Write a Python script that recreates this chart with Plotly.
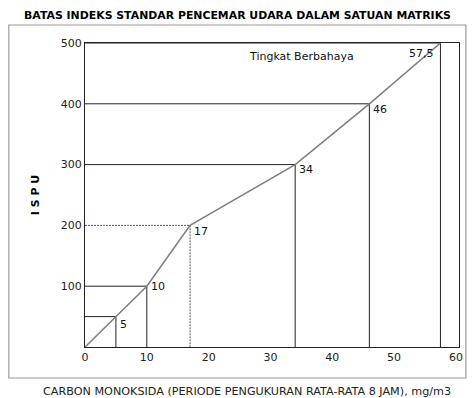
import plotly.graph_objects as go

# Data: CO concentration breakpoints (mg/m3) and ISPU values
co_values = [5, 10, 17, 34, 46, 57.5]
ispu_values = [50, 100, 200, 300, 400, 500]
point_labels = ["5", "10", "17", "34", "46", "57,5"]
dashed_flags = [False, False, True, False, False, False]
x_ticks = [0, 10, 20, 30, 40, 50, 60]
y_ticks = [100, 200, 300, 400, 500]

FONT = "DejaVu Sans"
fig = go.Figure()

# guide lines from each breakpoint to the axes
for x, y, dashed in zip(co_values, ispu_values, dashed_flags):
    fig.add_trace(go.Scatter(
        x=[0, x, x], y=[y, y, 0], mode="lines",
        line=dict(color="#555555" if dashed else "#222222", width=1,
                  dash="2px,1px" if dashed else "solid"),
        hoverinfo="skip", showlegend=False))

# main curve
fig.add_trace(go.Scatter(
    x=[0] + co_values, y=[0] + ispu_values, mode="lines",
    line=dict(color="#808080", width=1.6), showlegend=False))

# point labels
offsets = {"5": (2, -8, "left"), "10": (2, 0, "left"), "17": (2, -6, "left"),
           "34": (2, -5, "left"), "46": (2, -6, "left"), "57,5": (-4, -2, "right")}
for x, y, lab in zip(co_values, ispu_values, point_labels):
    dx, dy, anc = offsets[lab]
    fig.add_annotation(x=x, y=y, text=lab, showarrow=False, xanchor=anc,
                       yanchor="middle" if lab != "57,5" else "top",
                       xshift=dx, yshift=dy,
                       font=dict(family=FONT, size=11, color="#111111"))

fig.add_annotation(x=35, y=492, text="Tingkat Berbahaya", showarrow=False,
                   xanchor="center", yanchor="top",
                   font=dict(family=FONT, size=11, color="#111111"))

# x-axis title (centred on the page like the reference)
fig.add_annotation(xref="paper", yref="paper", x=0.434, y=-0.148,
                   text="CARBON MONOKSIDA (PERIODE PENGUKURAN RATA-RATA 8 JAM), mg/m3",
                   showarrow=False, xanchor="center", yanchor="middle",
                   font=dict(family=FONT, size=11.2, color="#222222"))

# outer frame
fig.add_shape(type="rect", xref="paper", yref="paper",
              x0=-0.2037, x1=1.0185, y0=-0.102, y1=1.0592,
              line=dict(color="#9a9a9a", width=1.2), layer="below")

fig.update_layout(
    width=475, height=398,
    margin=dict(l=85, r=12, t=43, b=51),
    paper_bgcolor="white", plot_bgcolor="white",
    title=dict(text="<b>BATAS INDEKS STANDAR PENCEMAR UDARA DALAM SATUAN MATRIKS</b>",
               x=0.5, xanchor="center", y=0.962, yanchor="middle",
               font=dict(family=FONT, size=10.9, color="#000000")),
    xaxis=dict(range=[0, 60.5], tickvals=x_ticks, showgrid=False, zeroline=False,
               showline=True, linecolor="#222222", linewidth=1, mirror=True,
               ticks="", tickfont=dict(family=FONT, size=11, color="#222222")),
    yaxis=dict(range=[0, 500], tickvals=y_ticks, showgrid=False, zeroline=False,
               showline=True, linecolor="#222222", linewidth=1, mirror=True,
               ticks="", tickfont=dict(family=FONT, size=11, color="#222222"),
               title=dict(text="<b>I S P U</b>",
                          font=dict(family=FONT, size=11, color="#000000"), standoff=18)),
)

fig.write_html("out.html", config={"displayModeBar": False},
               post_script="document.body.style.margin='0';")
